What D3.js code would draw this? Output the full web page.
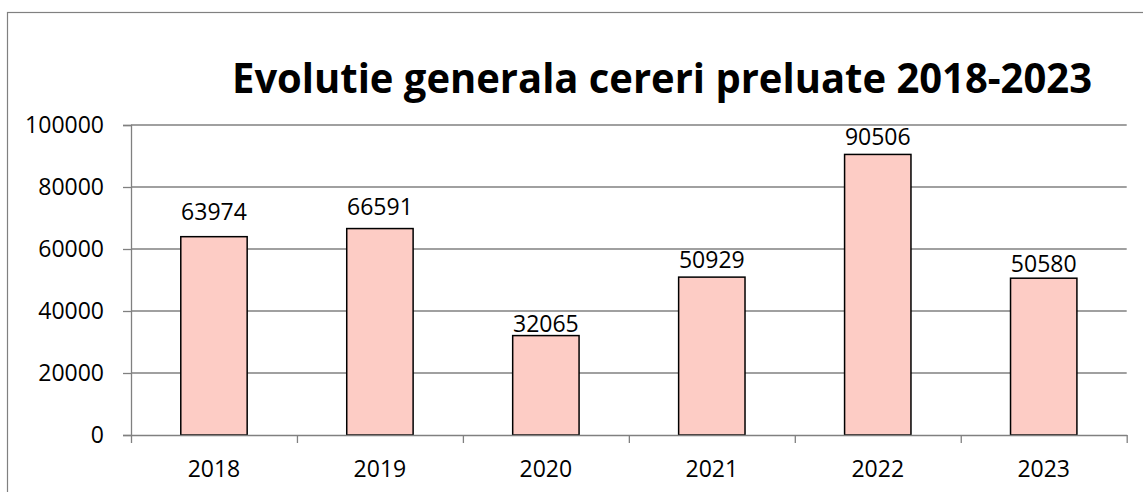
<!DOCTYPE html>
<html>
<head>
<meta charset="utf-8">
<script src="https://cdn.jsdelivr.net/npm/d3@7"></script>
<style>
  html, body { margin: 0; padding: 0; background: #fff; }
  svg { display: block; }
  text { font-family: "Open Sans", "Liberation Sans", sans-serif; }
</style>
</head>
<body>
<svg id="chart" width="1143" height="492"></svg>
<script>
// ---- data ----
const categories = ["2018", "2019", "2020", "2021", "2022", "2023"];
const values = [63974, 66591, 32065, 50929, 90506, 50580];
const yTicks = [0, 20000, 40000, 60000, 80000, 100000];
const titleText = "Evolutie generala cereri preluate 2018-2023";

// ---- layout / style ----
const W = 1143, H = 492;
const plot = { left: 131, right: 1126.7, top: 125, bottom: 435 };
const labelLift = [16.7, 13.3, 3.3, 9, 9.3, 6]; // distance of value label baseline above bar top
const gridColor = "#808080";
const barFill = "#FDCCC5";
const fontSize = 23;

const svg = d3.select("#chart");

// outer chart border (extends beyond visible area on right/bottom)
svg.append("rect")
  .attr("x", 7.5).attr("y", 12.5)
  .attr("width", 1200).attr("height", 600)
  .attr("fill", "none").attr("stroke", gridColor).attr("stroke-width", 1.2);

const x = d3.scaleBand().domain(categories).range([plot.left, plot.right]).padding(0);
const y = d3.scaleLinear().domain([0, 100000]).range([plot.bottom, plot.top]);
const xEdge = d3.scaleLinear().domain([0, categories.length]).range([plot.left, plot.right]);

// gridlines
svg.append("g").selectAll("line").data(yTicks.filter(t => t > 0)).join("line")
  .attr("x1", plot.left).attr("x2", plot.right)
  .attr("y1", d => y(d)).attr("y2", d => y(d))
  .attr("stroke", gridColor).attr("stroke-width", 1.3);

// y axis
const yAxis = svg.append("g")
  .attr("transform", `translate(${plot.left},0)`)
  .call(d3.axisLeft(y).tickValues(yTicks).tickSize(8).tickPadding(19).tickFormat(d3.format("d")));
yAxis.select(".domain").attr("stroke", gridColor).attr("stroke-width", 1.3);
yAxis.selectAll(".tick line").attr("stroke", gridColor).attr("stroke-width", 1.3);
yAxis.selectAll(".tick text")
  .attr("font-family", "'Open Sans', sans-serif")
  .attr("font-size", fontSize).attr("fill", "#000");

// bars
const bw = x.bandwidth() * 0.4;
svg.append("g").selectAll("rect").data(values).join("rect")
  .attr("x", (d, i) => x(categories[i]) + (x.bandwidth() - bw) / 2)
  .attr("width", bw)
  .attr("y", d => y(d))
  .attr("height", d => y(0) - y(d))
  .attr("fill", barFill)
  .attr("stroke", "#000").attr("stroke-width", 1.5);

// x axis
const xAxis = svg.append("g")
  .attr("transform", `translate(0,${plot.bottom})`)
  .call(d3.axisBottom(xEdge).tickValues(d3.range(categories.length + 1)).tickSize(8).tickSizeOuter(0).tickFormat(""));
xAxis.select(".domain").attr("stroke", gridColor).attr("stroke-width", 1.3);
xAxis.selectAll(".tick line").attr("stroke", gridColor).attr("stroke-width", 1.3);

// category labels
svg.append("g").selectAll("text").data(categories).join("text")
  .attr("x", d => x(d) + x.bandwidth() / 2)
  .attr("y", 477)
  .attr("text-anchor", "middle")
  .attr("font-size", fontSize).attr("fill", "#000")
  .text(d => d);

// value labels
svg.append("g").selectAll("text").data(values).join("text")
  .attr("x", (d, i) => x(categories[i]) + x.bandwidth() / 2)
  .attr("y", (d, i) => y(d) - labelLift[i])
  .attr("text-anchor", "middle")
  .attr("font-size", fontSize).attr("fill", "#000")
  .text(d => d);

// title, condensed to the reference width
svg.append("text")
  .attr("x", 232).attr("y", 93)
  .attr("font-weight", "bold")
  .attr("font-size", 41)
  .attr("fill", "#000")
  .attr("textLength", 860)
  .attr("lengthAdjust", "spacingAndGlyphs")
  .text(titleText);
</script>
</body>
</html>
